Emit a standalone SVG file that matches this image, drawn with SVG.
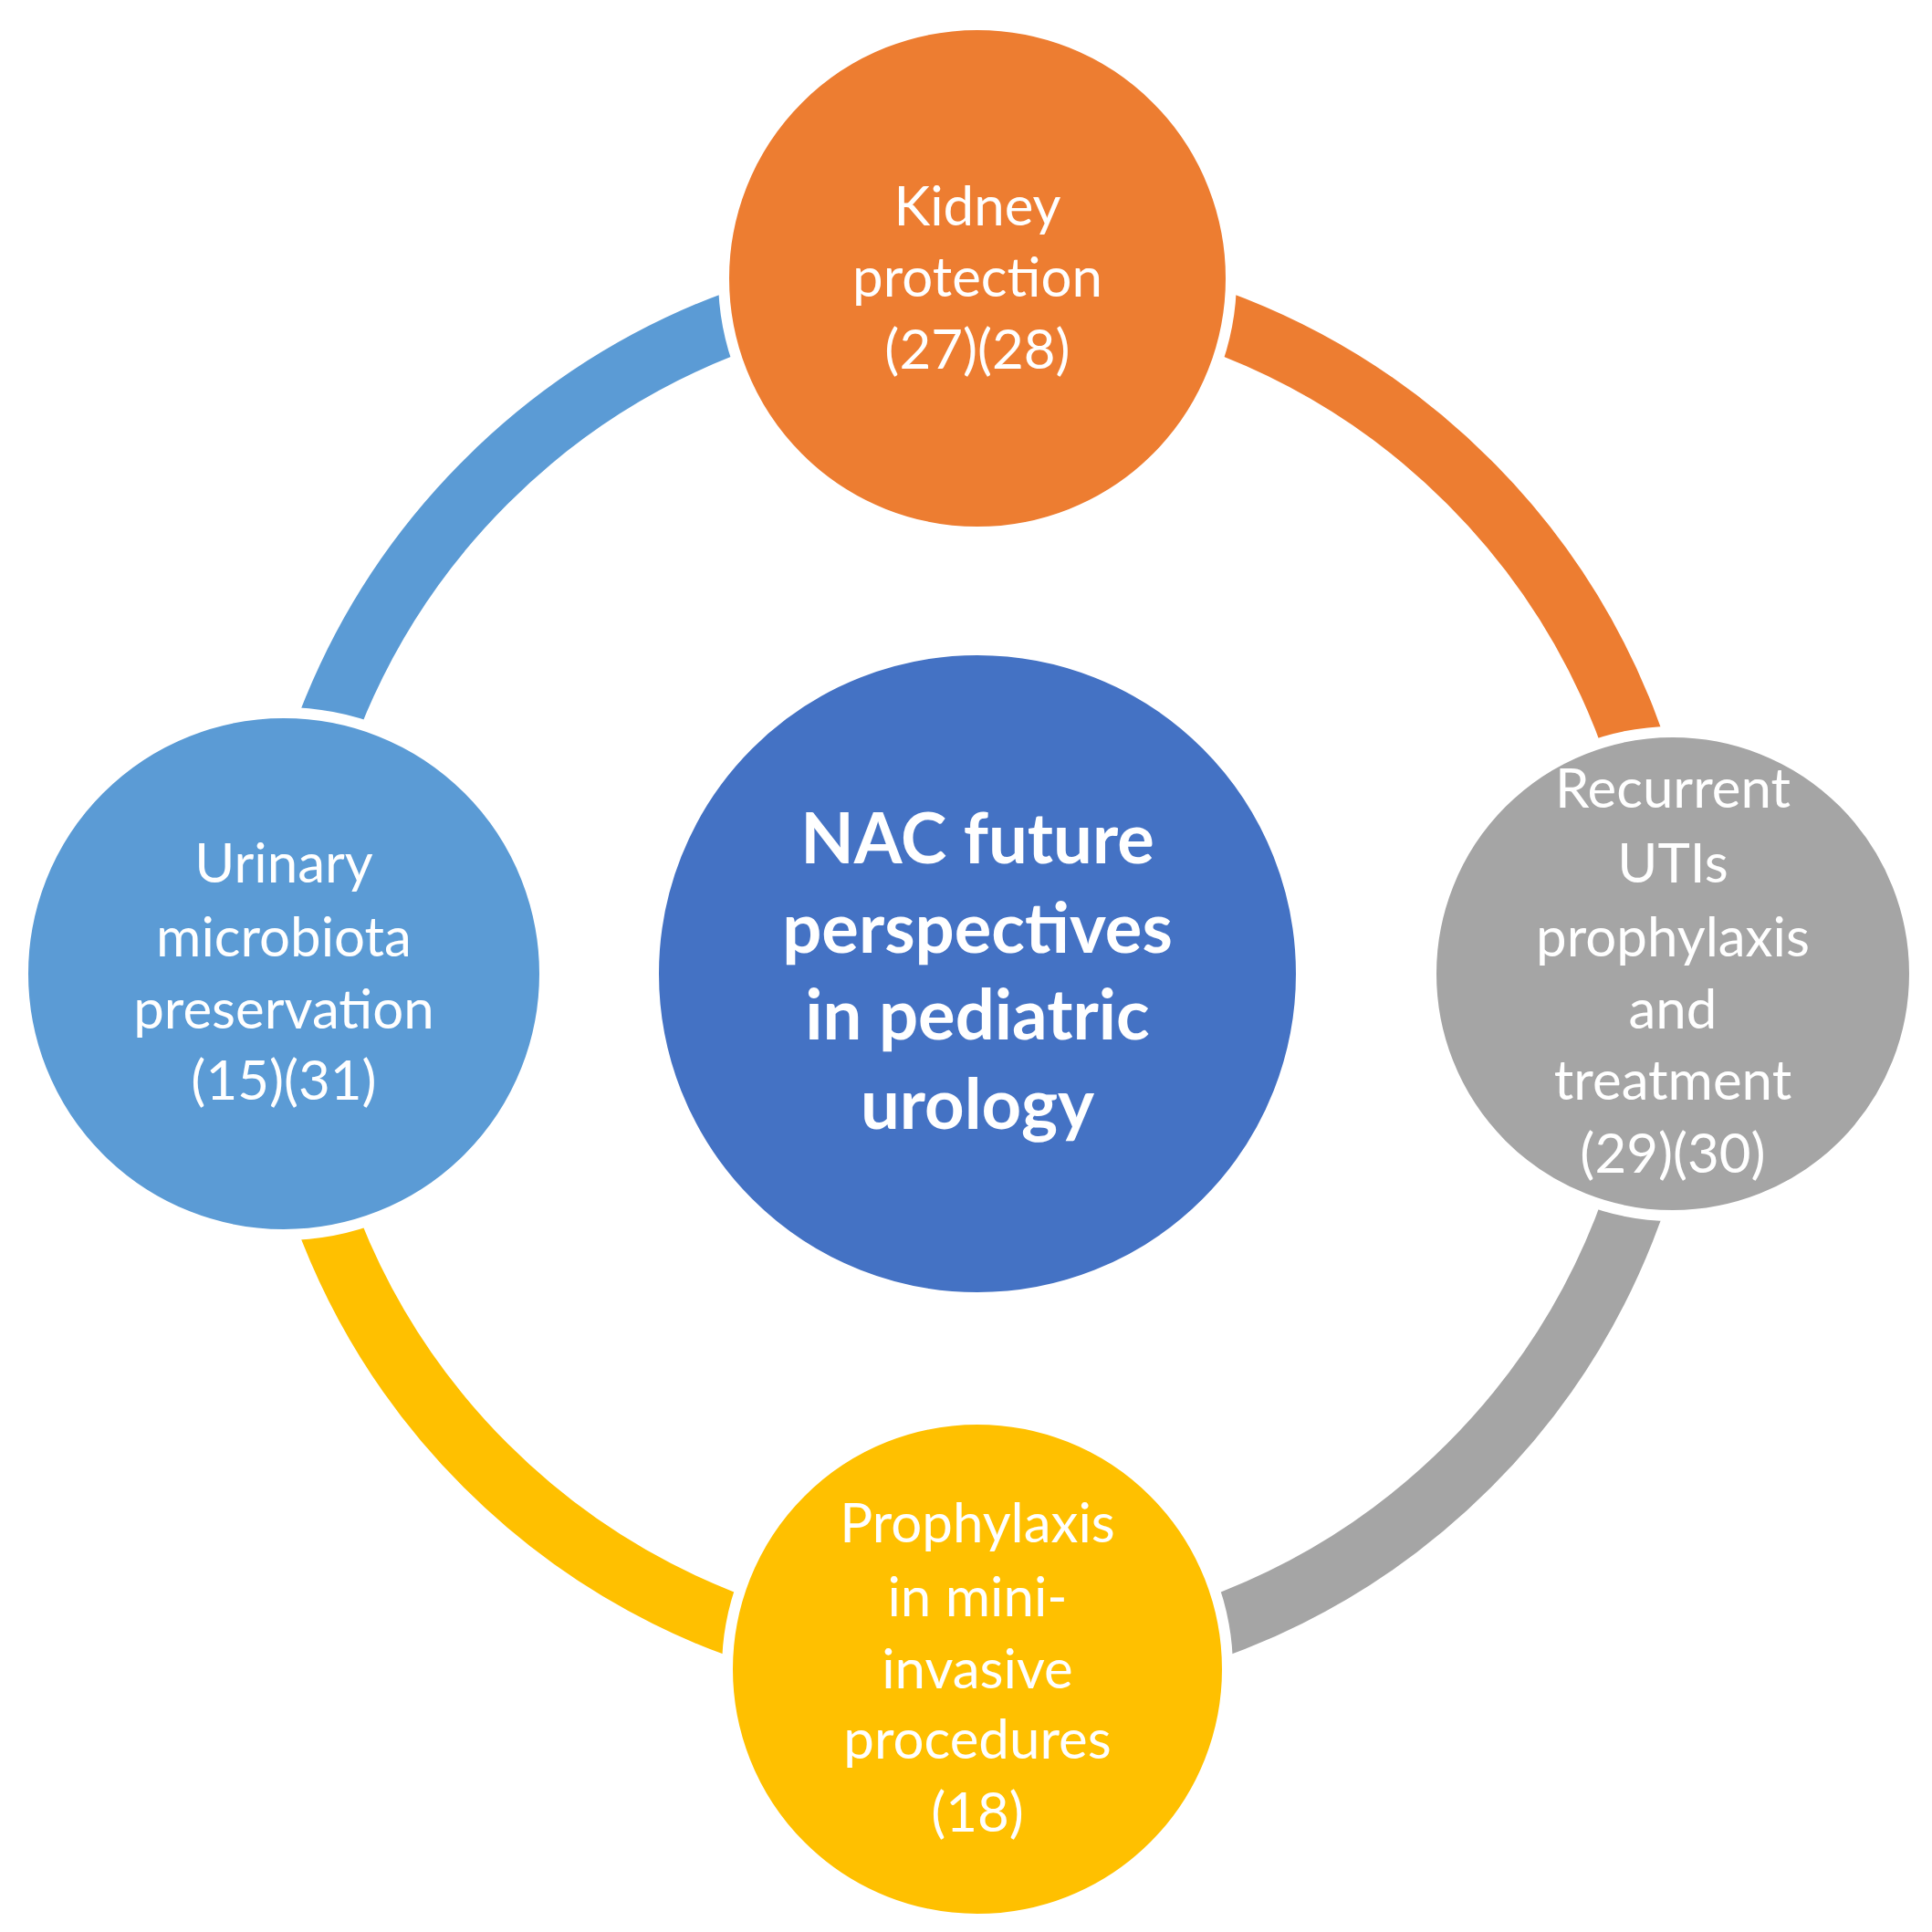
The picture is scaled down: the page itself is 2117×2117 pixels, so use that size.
<svg xmlns="http://www.w3.org/2000/svg" width="2117" height="2117" viewBox="0 0 2117 2117">
<style>
.arc{fill:none;stroke-width:68}
.node{stroke:#fff;stroke-width:12}
.t{font-family:Lato,"Open Sans",sans-serif;font-size:60px;fill:#fff;text-anchor:middle}
.c{font-family:Lato,"Open Sans",sans-serif;font-size:76px;font-weight:bold;fill:#fff;text-anchor:middle}
</style>
<rect width="2117" height="2117" fill="#fff"/>
<g id="connectors">
<path class="arc" stroke="#5B9BD5" d="M309,1067 A762,762 0 0 1 1071,305"/>
<path class="arc" stroke="#ED7D31" d="M1071,305 A762,762 0 0 1 1833,1067"/>
<path class="arc" stroke="#A5A5A5" d="M1833,1067 A762,762 0 0 1 1071,1829"/>
<path class="arc" stroke="#FFC000" d="M1071,1829 A762,762 0 0 1 309,1067"/>
</g>
<g id="center"><circle class="node" cx="1071" cy="1067" r="355" fill="#4472C4"/>
<text class="c" x="1071" y="946">NAC future</text><text class="c" x="1071" y="1044">perspectives</text><text class="c" x="1071" y="1139">in pediatric</text><text class="c" x="1071" y="1237">urology</text></g>
<g id="top"><circle class="node" cx="1071" cy="305" r="278" fill="#ED7D31"/>
<text class="t" x="1071" y="247">Kidney</text><text class="t" x="1071" y="325">protection</text><text class="t" x="1071" y="404">(27)(28)</text></g>
<g id="left"><circle class="node" cx="311" cy="1067" r="286" fill="#5B9BD5"/>
<text class="t" x="311" y="967">Urinary</text><text class="t" x="311" y="1048">microbiota</text><text class="t" x="311" y="1127">preservation</text><text class="t" x="311" y="1205">(15)(31)</text></g>
<g id="right"><circle class="node" cx="1833" cy="1067" r="265" fill="#A5A5A5"/>
<text class="t" x="1833" y="885">Recurrent</text><text class="t" x="1833" y="967">UTIs</text><text class="t" x="1833" y="1048">prophylaxis</text><text class="t" x="1833" y="1127">and</text><text class="t" x="1833" y="1205">treatment</text><text class="t" x="1833" y="1285">(29)(30)</text></g>
<g id="bottom"><circle class="node" cx="1071" cy="1829" r="274" fill="#FFC000"/>
<text class="t" x="1071" y="1690">Prophylaxis</text><text class="t" x="1071" y="1771">in mini-</text><text class="t" x="1071" y="1850">invasive</text><text class="t" x="1071" y="1927">procedures</text><text class="t" x="1071" y="2007">(18)</text></g>
</svg>
